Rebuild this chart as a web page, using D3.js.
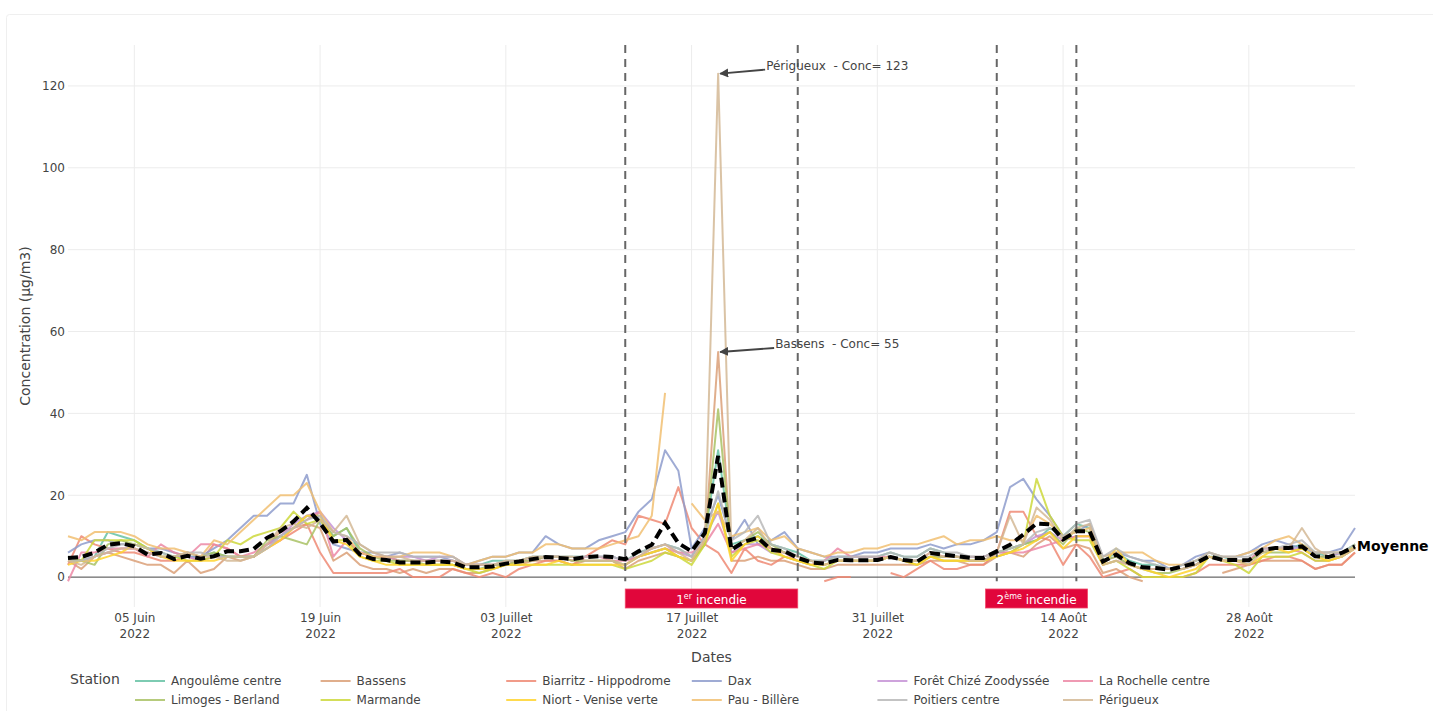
<!DOCTYPE html>
<html><head><meta charset="utf-8">
<script src="https://cdn.jsdelivr.net/npm/d3@7/dist/d3.min.js"></script>
<style>
html,body{margin:0;padding:0;background:#fff;}
svg{display:block;font-family:"DejaVu Sans",Verdana,sans-serif;}
</style></head>
<body>
<svg id="chart" width="1433" height="711"></svg>
<script>
// ---------- DATA ----------
const startDate = "2022-05-31"; // first daily value
const stations = ["Angoulême centre","Bassens","Biarritz - Hippodrome","Dax","Forêt Chizé Zoodyssée","La Rochelle centre",
                  "Limoges - Berland","Marmande","Niort - Venise verte","Pau - Billère","Poitiers centre","Périgueux"];
const stationColors = ["#66c2a5","#dba078","#ef8a74","#8e9ccc","#c693d6","#ec88a6",
                       "#a9c265","#cdd83c","#ffd42e","#f1c072","#b8b8b8","#d4b995"];
const angouleme = [5,4,5,11,10,9,7,6,5,5, 5,6,5,5,5,8,10,12,15,14, 10,12,6,5,5,4,4,4,4,4, 3,3,4,4,4,5,5,5,5,5,
  5,5,4,6,7,8,7,5,10,31, 8,9,10,8,7,6,4,4,5,5, 5,5,6,5,5,7,6,5,5,5, 6,7,8,9,12,10,13,12,4,6, 4,3,3,2,3,4,5,5,4,4, 6,7,7,8,6,5,6,8];
const bassens = [4,2,5,6,5,4,3,3,1,4, 1,2,5,4,5,8,11,12,13,12, 4,6,3,2,2,1,2,1,2,2, 1,1,2,3,3,4,4,4,3,4,
  4,4,2,4,5,6,5,4,8,55, 4,4,5,4,4,3,2,2,3,3, 3,3,3,3,3,4,4,4,3,3, 5,6,5,8,10,7,8,7,1,2, 0,-1,null,null,null,null,null,1,2,3, 4,4,4,4,2,3,3,6];
const biarritz = [3,10,8,7,6,6,5,4,4,5, 4,8,7,5,5,7,9,11,13,6, 1,1,1,1,1,2,0,0,0,2, 1,0,1,0,2,3,4,4,3,5,
  7,9,8,15,14,13,22,12,8,6, 1,7,4,3,5,4,null,-1,0,0, null,null,1,0,2,4,2,2,3,3, 6,16,16,10,9,3,8,5,0,1, 2,0,0,0,0,1,3,3,3,3, 4,5,5,4,2,3,3,6];
const dax = [6,8,9,9,8,8,7,7,6,5, 5,7,9,12,15,15,18,18,25,13, 8,7,6,6,5,6,5,5,5,4, 3,4,5,5,6,6,10,8,7,7,
  9,10,11,16,19,31,26,7,12,20, 9,14,8,9,11,7,6,5,5,5, 6,6,7,7,7,8,7,8,8,9, 11,22,24,19,15,10,11,13,5,6, 5,4,4,2,3,5,6,5,5,6, 8,9,8,7,6,6,7,12];
const foretChize = [4,4,5,6,7,7,6,5,5,5, 4,5,5,5,5,8,10,13,15,16, 12,9,6,5,5,5,5,4,5,5, 3,3,3,3,4,4,5,5,4,5,
  5,5,4,5,7,8,6,5,10,16, 6,8,8,6,6,5,4,3,4,4, 4,4,5,4,4,5,5,5,4,4, 6,6,8,10,11,9,10,10,4,5, 3,2,2,2,2,3,5,4,4,4, 7,7,7,7,5,5,6,7];
const laRochelle = [-1,6,6,7,7,7,5,8,6,5, 8,8,7,5,6,8,9,12,14,16, 5,9,6,5,5,4,4,4,4,4, 3,3,3,3,4,4,5,5,4,5,
  5,4,4,5,6,7,6,6,8,13, 6,7,8,7,6,4,3,4,7,5, 5,5,5,4,4,6,5,5,5,5, 6,6,6,7,8,9,10,10,3,4, 3,2,2,2,2,3,5,4,4,4, 7,7,7,6,4,4,5,7];
const limoges = [5,4,3,8,9,8,7,5,5,6, 5,6,5,5,5,9,10,9,8,14, 10,12,7,5,4,4,4,3,3,3, 2,2,3,3,4,4,5,5,4,4,
  4,4,3,5,6,7,5,4,8,41, 7,9,11,8,6,5,4,3,4,4, 4,4,5,4,4,5,5,5,4,4, 6,7,8,9,11,8,12,11,4,5, 3,2,1,1,2,3,5,4,4,4, 6,6,6,7,5,5,5,7];
const marmande = [4,4,9,9,9,9,7,5,5,4, 4,5,9,8,10,11,12,16,13,14, 9,9,5,4,4,3,3,3,3,3, 2,1,2,3,3,3,3,3,3,3,
  3,3,2,3,4,6,5,3,8,18, 5,8,9,6,5,4,3,2,4,4, 4,4,5,4,3,5,4,4,4,4, 5,6,8,24,15,10,9,9,3,4, 2,0,0,0,0,1,5,4,3,1, 5,5,5,6,4,4,5,8];
const niort = [3,4,4,5,6,8,7,5,4,4, 4,4,5,5,5,7,9,12,15,15, 9,8,5,4,3,3,3,3,3,3, 2,2,2,3,3,3,3,4,3,3,
  3,3,3,5,6,7,5,4,9,18, 4,8,10,7,5,4,3,3,4,4, 4,4,5,4,3,5,4,4,4,4, 5,6,7,9,11,7,10,10,3,7, 3,2,1,0,1,2,5,4,4,3, 5,7,6,7,5,4,5,7];
const pau = [10,9,11,11,11,10,8,7,7,6, 5,9,8,11,14,17,20,20,23,16, 11,10,6,5,5,5,6,6,6,5, 3,4,5,5,6,6,8,8,7,7,
  7,8,9,10,15,45,null,18,14,16, 10,11,12,9,10,7,6,5,6,6, 7,7,8,8,8,9,10,8,9,9, 10,9,9,15,13,10,11,12,5,6, 6,6,4,3,3,4,6,5,5,6, 7,9,10,8,6,6,6,7];
const poitiers = [4,4,5,7,8,8,7,6,5,6, 6,5,5,5,5,7,10,12,14,15, 11,10,8,6,6,6,5,5,5,5, 3,3,3,4,4,5,5,5,5,5,
  5,5,4,6,7,8,7,5,10,21, 9,11,15,8,7,5,4,4,5,5, 5,5,6,5,5,7,6,6,5,5, 6,7,8,11,12,10,13,14,5,7, 5,4,3,2,3,4,6,5,5,5, 7,7,8,9,6,6,6,8];
const perigueux = [4,3,5,6,7,7,6,5,5,6, 5,5,4,4,5,8,12,13,12,14, 11,15,8,6,5,5,4,4,4,4, 3,3,3,4,4,5,5,5,5,4,
  4,4,3,5,7,8,6,4,9,123, 7,9,12,7,6,5,4,3,4,4, 4,4,5,4,4,6,5,5,4,4, 6,15,8,17,14,9,12,13,3,4, 3,2,2,2,2,3,5,4,4,3, 6,7,7,12,7,5,5,7];
const moyenne = [4.7,4.9,6.0,7.9,8.3,7.5,5.5,5.9,4.4,5.2, 4.5,5.1,6.3,6.3,6.9,9.6,11.2,13.6,16.9,13.2,
  8.7,9.1,5.5,4.4,4.2,3.6,3.6,3.6,3.8,3.6, 2.4,2.4,2.6,3.3,3.8,4.4,4.9,4.7,4.4,4.9,
  5.1,4.9,4.4,6.3,7.9,13.2,8.3,6.3,10.8,29.6, 6.7,8.7,9.6,6.7,6.3,4.7,3.6,3.3,4.2,4.1,
  4.1,4.2,4.9,4.2,3.8,5.9,5.5,5.1,4.7,4.7, 6.3,7.9,10.4,13.1,12.9,9.2,11.2,11.2,3.8,5.5,
  3.4,2.4,2.2,1.8,2.6,3.4,5.1,4.2,4.2,4.1, 6.7,7.1,7.1,7.5,5.1,4.9,5.9,7.5];
const seriesValues = [angouleme,bassens,biarritz,dax,foretChize,laRochelle,limoges,marmande,niort,pau,poitiers,perigueux];

const xTickDates = ["2022-06-05","2022-06-19","2022-07-03","2022-07-17","2022-07-31","2022-08-14","2022-08-28"];
const xTickLabels = ["05 Juin","19 Juin","03 Juillet","17 Juillet","31 Juillet","14 Août","28 Août"];
const yTicks = [0,20,40,60,80,100,120];
const fireLines = ["2022-07-12","2022-07-25","2022-08-09","2022-08-15"];
const fires = [{start:"2022-07-12", end:"2022-07-25", num:"1", sup:"er"},
               {start:"2022-08-09", end:"2022-08-15", num:"2", sup:"ème"}];
const peakNotes = [{date:"2022-07-19", value:123, label:"Périgueux  - Conc= 123"},
                   {date:"2022-07-19", value:55, label:"Bassens  - Conc= 55"}];

// ---------- CHART ----------
const FONT = "DejaVu Sans, Verdana, sans-serif";
const svg = d3.select("#chart");
const M = {left:68, right:1355, top:45, bottom:607};
const parse = d3.utcParse("%Y-%m-%d");
const d0 = parse(startDate);
const dates = d3.range(moyenne.length).map(i => d3.utcDay.offset(d0, i));

const x = d3.scaleUtc().domain([d0, d3.utcDay.offset(d0, moyenne.length-1)]).range([M.left, M.right]);
const y = d3.scaleLinear().domain([-7.3, 130]).range([M.bottom, M.top]);

// card frame
svg.append("rect").attr("x",6.5).attr("y",14.5).attr("width",1440).attr("height",720)
  .attr("rx",3).attr("fill","none").attr("stroke","#efefef");

// grid
const g = svg.append("g");
g.selectAll(".hg").data(yTicks.filter(t=>t!==0)).join("line")
  .attr("x1",M.left).attr("x2",M.right).attr("y1",d=>y(d)).attr("y2",d=>y(d))
  .attr("stroke","#ececec").attr("stroke-width",1);
g.selectAll(".vg").data(xTickDates).join("line")
  .attr("x1",d=>x(parse(d))).attr("x2",d=>x(parse(d))).attr("y1",M.top).attr("y2",M.bottom)
  .attr("stroke","#ececec").attr("stroke-width",1);

// y axis labels
const yAxis = d3.axisLeft(y).tickValues(yTicks).tickSize(0).tickPadding(3);
svg.append("g").attr("transform",`translate(${M.left},0)`).call(yAxis)
  .call(s=>s.select(".domain").remove())
  .selectAll("text").attr("font-size",12).attr("fill","#444").attr("font-family",FONT);

// x axis labels (two lines)
const xAxis = d3.axisBottom(x).tickValues(xTickDates.map(parse)).tickSize(0).tickPadding(6)
  .tickFormat((d,i)=>xTickLabels[i]);
const xg = svg.append("g").attr("transform",`translate(0,${M.bottom})`).call(xAxis);
xg.select(".domain").remove();
xg.selectAll("text").attr("font-size",12).attr("fill","#444").attr("font-family",FONT)
  .attr("dy",null).attr("y",15)
  .each(function(){ d3.select(this).append("tspan").attr("x",0).attr("dy","1.35em").text("2022"); });

// zero line
svg.append("line").attr("x1",M.left).attr("x2",M.right).attr("y1",y(0)).attr("y2",y(0))
  .attr("stroke","#444").attr("stroke-width",1);

// station lines
const line = d3.line().defined(d=>d[1]!==null).x(d=>x(d[0])).y(d=>y(d[1]));
const lg = svg.append("g");
seriesValues.forEach((vals,i)=>{
  lg.append("path").datum(vals.map((v,j)=>[dates[j],v]))
    .attr("d",line).attr("fill","none").attr("stroke",stationColors[i])
    .attr("stroke-opacity",0.85).attr("stroke-width",2).attr("stroke-linejoin","round");
});

// fire period dashed lines
svg.selectAll(".fl").data(fireLines).join("line")
  .attr("x1",d=>x(parse(d))).attr("x2",d=>x(parse(d))).attr("y1",M.top).attr("y2",y(-1))
  .attr("stroke","#666").attr("stroke-width",2).attr("stroke-dasharray","8,6");

// mean line
svg.append("path").datum(moyenne.map((v,j)=>[dates[j],v]))
  .attr("d",line).attr("fill","none").attr("stroke","#000").attr("stroke-width",4)
  .attr("stroke-dasharray","10,5");
svg.append("text").attr("x",x(dates[dates.length-1])+2).attr("y",y(moyenne[moyenne.length-1])+5)
  .attr("font-size",14).attr("font-weight","bold").attr("fill","#000").text("Moyenne");

// fire labels
fires.forEach(f=>{
  const x1 = x(parse(f.start)), x2 = x(parse(f.end));
  const cx = (x1+x2)/2;
  const t = svg.append("text").attr("x",cx).attr("y",604).attr("text-anchor","middle")
    .attr("font-size",12).attr("fill","#fff");
  t.append("tspan").text(f.num);
  t.append("tspan").attr("font-size",8).attr("dy",-5).text(f.sup);
  t.append("tspan").attr("dy",5).text(" incendie");
  const w = Math.max(x2-x1, t.node().getComputedTextLength()+22);
  svg.insert("rect", function(){return t.node();}).attr("x",cx-w/2).attr("y",589).attr("width",w).attr("height",19)
    .attr("fill","#e1063b").attr("stroke","#f04a6a").attr("stroke-width",0.8);
});

// peak annotations
svg.append("defs").append("marker").attr("id","arr").attr("viewBox","0 0 10 10")
  .attr("refX",9).attr("refY",5).attr("markerWidth",5).attr("markerHeight",5).attr("orient","auto")
  .append("path").attr("d","M0,0 L10,5 L0,10 Z").attr("fill","#444");
peakNotes.forEach((p,i)=>{
  const px = x(parse(p.date)), py = y(p.value);
  const tx = i===0 ? px+48 : px+57, ty = py-4;
  svg.append("line").attr("x1",tx-1).attr("y1",ty).attr("x2",px+2).attr("y2",py)
    .attr("stroke","#444").attr("stroke-width",1.8).attr("marker-end","url(#arr)");
  svg.append("text").attr("x",tx).attr("y",ty-6+4).attr("dy","-0.1em").attr("font-size",12).attr("fill","#444")
    .attr("dominant-baseline","middle").style("white-space","pre").text(p.label);
});

// axis titles
svg.append("text").attr("x",(M.left+M.right)/2).attr("y",662).attr("text-anchor","middle")
  .attr("font-size",14).attr("fill","#444").text("Dates");
svg.append("text").attr("transform",`translate(30,${(M.top+M.bottom)/2}) rotate(-90)`).attr("text-anchor","middle")
  .attr("font-size",14).attr("fill","#444").text("Concentration (µg/m3)");

// legend
const leg = svg.append("g");
leg.append("text").attr("x",70).attr("y",684).attr("font-size",14).attr("fill","#444").text("Station");
stations.forEach((s,i)=>{
  const col = i%6, row = Math.floor(i/6);
  const lx = 135 + col*185.6, ly = 681 + row*19;
  leg.append("line").attr("x1",lx).attr("x2",lx+30).attr("y1",ly).attr("y2",ly)
    .attr("stroke",stationColors[i]).attr("stroke-opacity",0.85).attr("stroke-width",2);
  leg.append("text").attr("x",lx+36).attr("y",ly+4).attr("font-size",12).attr("fill","#444").text(s);
});
</script>
</body></html>
